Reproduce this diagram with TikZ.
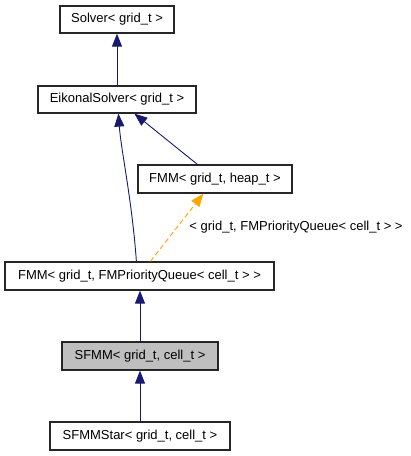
\documentclass[tikz,border=0pt]{standalone}
\usepackage{fontspec}
\setmainfont{Liberation Sans}
\usetikzlibrary{arrows.meta,calc}
\definecolor{edgeblue}{HTML}{191970}
\definecolor{edgeorange}{HTML}{FFA500}
\definecolor{boxgray}{HTML}{BFBFBF}
\begin{document}
\begin{tikzpicture}[x=1pt,y=-1pt,
  cls/.style={draw=black!85, line width=1.2pt, fill=white, inner sep=0pt, font=\fontsize{13}{15}\selectfont, anchor=center},
  inh/.style={draw=edgeblue, line width=0.9pt, -{Triangle[length=13pt,width=10pt,fill=edgeblue]}},
  tmpl/.style={draw=edgeorange, line width=0.9pt, dash pattern=on 5pt off 3pt, -{Triangle[length=13pt,width=10pt,fill=edgeorange]}},
  lbl/.style={font=\fontsize{13}{15}\selectfont, inner sep=0pt}]
\useasboundingbox (0,0) rectangle (411,456);
\node[cls, minimum width=114pt, minimum height=27pt] (solver) at (117,19.5) {Solver< grid\_t >};
\node[cls, minimum width=158pt, minimum height=27pt] (eik) at (117,99.5) {EikonalSolver< grid\_t >};
\node[cls, minimum width=154pt, minimum height=28pt] (fmmheap) at (215,179) {FMM< grid\_t, heap\_t >};
\node[cls, minimum width=269pt, minimum height=28pt] (fmmpq) at (139.5,276) {FMM< grid\_t, FMPriorityQueue< cell\_t > >};
\node[cls, minimum width=156pt, minimum height=28pt, fill=boxgray] (sfmm) at (140,356) {SFMM< grid\_t, cell\_t >};
\node[cls, minimum width=180pt, minimum height=28pt] (sfmmstar) at (140,436) {SFMMStar< grid\_t, cell\_t >};
\node[lbl] (tlabel) at (296,227) {< grid\_t, FMPriorityQueue< cell\_t > >};

\draw[inh] (eik.north) -- (solver.south);
\draw[inh] ($(fmmpq.north west)+(132,0)$) .. controls (132,200) and (121,150) .. ($(eik.south west)+(81,0)$);
\draw[inh] ($(fmmheap.north west)+(60,0)$) -- ($(eik.south west)+(97,0)$);
\draw[tmpl] ($(fmmpq.north west)+(146,0)$) -- ($(fmmheap.south west)+(66,0)$);
\draw[inh] (sfmm.north) -- (sfmm.north |- fmmpq.south);
\draw[inh] (sfmmstar.north) -- (sfmm.south);
\end{tikzpicture}
\end{document}
